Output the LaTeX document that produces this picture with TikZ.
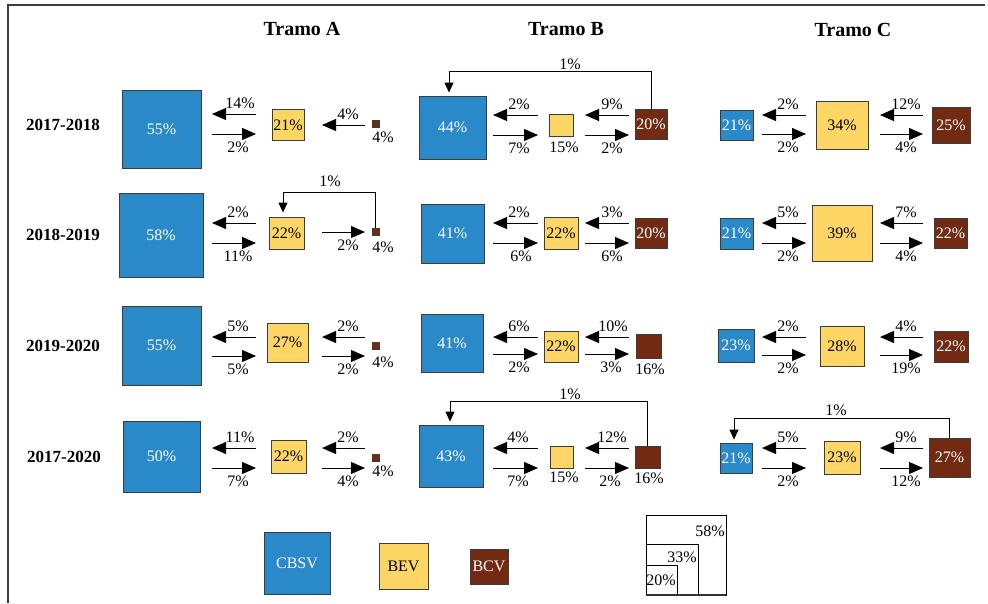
\documentclass[tikz,border=0pt]{standalone}
\usepackage{fontspec}
\setmainfont{Liberation Serif}
\usetikzlibrary{arrows.meta,calc}
\definecolor{cbsv}{RGB}{42,137,200}
\definecolor{bev}{RGB}{254,214,102}
\definecolor{bcv}{RGB}{114,43,18}
\definecolor{edge}{RGB}{60,60,60}

\tikzset{
  box/.style={draw=edge, line width=0.9pt, inner sep=0pt, font=\fontsize{16}{18}\selectfont},
  cb/.style={box, fill=cbsv, text=white},
  be/.style={box, fill=bev, text=black},
  bc/.style={box, fill=bcv, text=white},
  flow/.style={line width=1pt, -{Triangle[length=14pt,width=12pt]}},
  back/.style={line width=1pt, -{Triangle[length=10pt,width=9pt]}},
  lbl/.style={inner sep=0pt, font=\fontsize{16}{18}\selectfont},
  year/.style={inner sep=0pt, font=\bfseries\fontsize{17}{19}\selectfont},
  ttl/.style={inner sep=0pt, font=\bfseries\fontsize{20}{22}\selectfont},
}

% square: style, name, centre, width, height, text
\newcommand\sq[6]{\node[#1, minimum width=#4pt, minimum height=#5pt] (#2) at (#3) {#6};}
% leftward flow: x-left, x-right, y, label x, label
\newcommand\fleft[5]{\draw[flow] (#2,#3) -- (#1,#3); \node[lbl] at (#4,#3-11) {#5};}
% rightward flow: x-left, x-right, y, label x, label
\newcommand\fright[5]{\draw[flow] (#1,#3) -- (#2,#3); \node[lbl] at (#4,#3+13) {#5};}

\begin{document}
\begin{tikzpicture}[x=1pt,y=-1pt]
\useasboundingbox (0,0) rectangle (988,603);
\fill[white] (0,0) rectangle (988,603);
\draw[line width=1.3pt, edge] (8,603) -- (8,5) -- (985,5);

% column titles
\node[ttl] (tA) at (302,29) {Tramo A};
\node[ttl] (tB) at (566,29) {Tramo B};
\node[ttl] (tC) at (853,30) {Tramo C};

% period labels
\node[year] (y1) at (63,125) {2017-2018};
\node[year] (y2) at (63,235) {2018-2019};
\node[year] (y3) at (63,346) {2019-2020};
\node[year] (y4) at (64,457) {2017-2020};

% ---------------- 2017-2018 ----------------
\sq{cb}{a1}{161.5,129}{79}{78}{55\%}
\sq{be}{a1y}{288,125}{32}{31}{21\%}
\sq{bc}{a1c}{375.5,124}{7}{7}{}
\node[lbl] (a1cl) at (383,137) {4\%};
\fleft{212}{256}{114}{240}{14\%}
\fright{212}{256}{134}{238}{2\%}
\fleft{322}{365}{125}{348}{4\%}

\sq{cb}{b1}{452.5,127.5}{67}{63}{44\%}
\sq{be}{b1y}{561,125}{24}{22}{}
\node[lbl] (b1yl) at (564,147) {15\%};
\sq{bc}{b1c}{651,124}{32}{30}{20\%}
\fleft{493}{538}{115}{519}{2\%}
\fright{493}{538}{135}{519}{7\%}
\fleft{585}{629}{115}{612}{9\%}
\fright{585}{629}{135}{612}{2\%}
\draw[back] (b1c.north) -- ++(0,-37) -| ([xshift=-3.5pt,yshift=3pt]b1.north);
\node[lbl] (b1f) at (570,64) {1\%};

\sq{cb}{c1}{736.5,125}{33}{30}{21\%}
\sq{be}{c1y}{842,125}{52}{48}{34\%}
\sq{bc}{c1c}{951,125}{38}{36}{25\%}
\fleft{762}{806}{115}{788}{2\%}
\fright{762}{806}{134}{788}{2\%}
\fleft{880}{923}{115}{906}{12\%}
\fright{880}{923}{134}{906}{4\%}

% ---------------- 2018-2019 ----------------
\sq{cb}{a2}{161,235}{84}{84}{58\%}
\sq{be}{a2y}{286.5,233}{35}{32}{22\%}
\sq{bc}{a2c}{375.5,232}{7}{7}{}
\node[lbl] (a2cl) at (383,247) {4\%};
\fleft{212}{256}{223}{238}{2\%}
\fright{212}{256}{243}{238}{11\%}
\fright{322}{365}{232}{348}{2\%}
\draw[back] (a2c.north) -- ++(0,-36) -| ([xshift=-3.5pt,yshift=4pt]a2y.north);
\node[lbl] (a2f) at (330,181) {1\%};

\sq{cb}{b2}{452.5,233.5}{63}{59}{41\%}
\sq{be}{b2y}{561,233}{34}{32}{22\%}
\sq{bc}{b2c}{651,233}{32}{30}{20\%}
\fleft{493}{538}{223}{519}{2\%}
\fright{493}{538}{243}{521}{6\%}
\fleft{585}{629}{223}{612}{3\%}
\fright{585}{629}{243}{612}{6\%}

\sq{cb}{c2}{736.5,233.5}{33}{31}{21\%}
\sq{be}{c2y}{842,233}{60}{56}{39\%}
\sq{bc}{c2c}{950.5,233}{33}{30}{22\%}
\fleft{762}{806}{223}{788}{5\%}
\fright{762}{806}{243}{788}{2\%}
\fleft{880}{923}{223}{906}{7\%}
\fright{880}{923}{243}{906}{4\%}

% ---------------- 2019-2020 ----------------
\sq{cb}{a3}{161.5,345.5}{79}{79}{55\%}
\sq{be}{a3y}{287.5,342.5}{41}{39}{27\%}
\sq{bc}{a3c}{375.5,346}{7}{7}{}
\node[lbl] (a3cl) at (383,362) {4\%};
\fleft{212}{256}{337}{238}{5\%}
\fright{212}{256}{356}{238}{5\%}
\fleft{322}{365}{337}{348}{2\%}
\fright{322}{365}{356}{348}{2\%}

\sq{cb}{b3}{452,343}{62}{58}{41\%}
\sq{be}{b3y}{561,346.5}{34}{31}{22\%}
\sq{bc}{b3c}{648.5,346}{25}{24}{}
\node[lbl] (b3cl) at (650,369) {16\%};
\fleft{493}{538}{337}{519}{6\%}
\fright{493}{538}{354}{519}{2\%}
\fleft{585}{629}{337}{613}{10\%}
\fright{585}{629}{354}{611}{3\%}

\sq{cb}{c3}{736,345.5}{36}{33}{23\%}
\sq{be}{c3y}{842,346}{44}{40}{28\%}
\sq{bc}{c3c}{951,346.5}{34}{31}{22\%}
\fleft{762}{806}{337}{788}{2\%}
\fright{762}{806}{355}{788}{2\%}
\fleft{880}{923}{337}{906}{4\%}
\fright{880}{923}{355}{906}{19\%}

% ---------------- 2017-2020 ----------------
\sq{cb}{a4}{161.5,456.5}{77}{71}{50\%}
\sq{be}{a4y}{288.5,456.5}{35}{33}{22\%}
\sq{bc}{a4c}{375.5,457.5}{7}{7}{}
\node[lbl] (a4cl) at (383,471) {4\%};
\fleft{212}{256}{448}{240}{11\%}
\fright{212}{256}{468}{238}{7\%}
\fleft{322}{365}{448}{348}{2\%}
\fright{322}{365}{468}{348}{4\%}

\sq{cb}{b4}{451,456}{64}{62}{43\%}
\sq{be}{b4y}{561.5,457}{23}{22}{}
\node[lbl] (b4yl) at (564,477) {15\%};
\sq{bc}{b4c}{647.5,457}{25}{22}{}
\node[lbl] (b4cl) at (649,478) {16\%};
\fleft{493}{538}{448}{518}{4\%}
\fright{493}{538}{468}{518}{7\%}
\fleft{585}{629}{448}{612}{12\%}
\fright{585}{629}{468}{610}{2\%}
\draw[back] (b4c.north) -- ++(0,-44) -| ([xshift=-1pt,yshift=3pt]b4.north);
\node[lbl] (b4f) at (570,394) {1\%};

\sq{cb}{c4}{736,458}{32}{30}{21\%}
\sq{be}{c4y}{842,457.5}{36}{33}{23\%}
\sq{bc}{c4c}{949.5,457.5}{41}{39}{27\%}
\fleft{762}{806}{448}{788}{5\%}
\fright{762}{806}{468}{788}{2\%}
\fleft{880}{923}{448}{906}{9\%}
\fright{880}{923}{468}{906}{12\%}
\draw[back] (c4c.north) -- ++(0,-19) -| ([xshift=-2pt,yshift=3pt]c4.north);
\node[lbl] (c4f) at (836,410) {1\%};

% ---------------- legend ----------------
\sq{cb}{lg1}{297,563}{66}{62}{CBSV}
\sq{be}{lg2}{403.5,566}{49}{46}{BEV}
\sq{bc}{lg3}{489,566.5}{38}{35}{BCV}

% size scale: nested squares
\draw[line width=0.9pt, black] (646,515) rectangle (726,595);
\draw[line width=0.9pt, black] (646,544) rectangle (698,595);
\draw[line width=0.9pt, black] (646,565) rectangle (677,595);
\draw[line width=1.6pt, black!80] (646,595) -- (726,595);
\node[lbl] (s58) at (710,531) {58\%};
\node[lbl] (s33) at (682,557) {33\%};
\node[lbl] (s20) at (661,580) {20\%};
\end{tikzpicture}
\end{document}
